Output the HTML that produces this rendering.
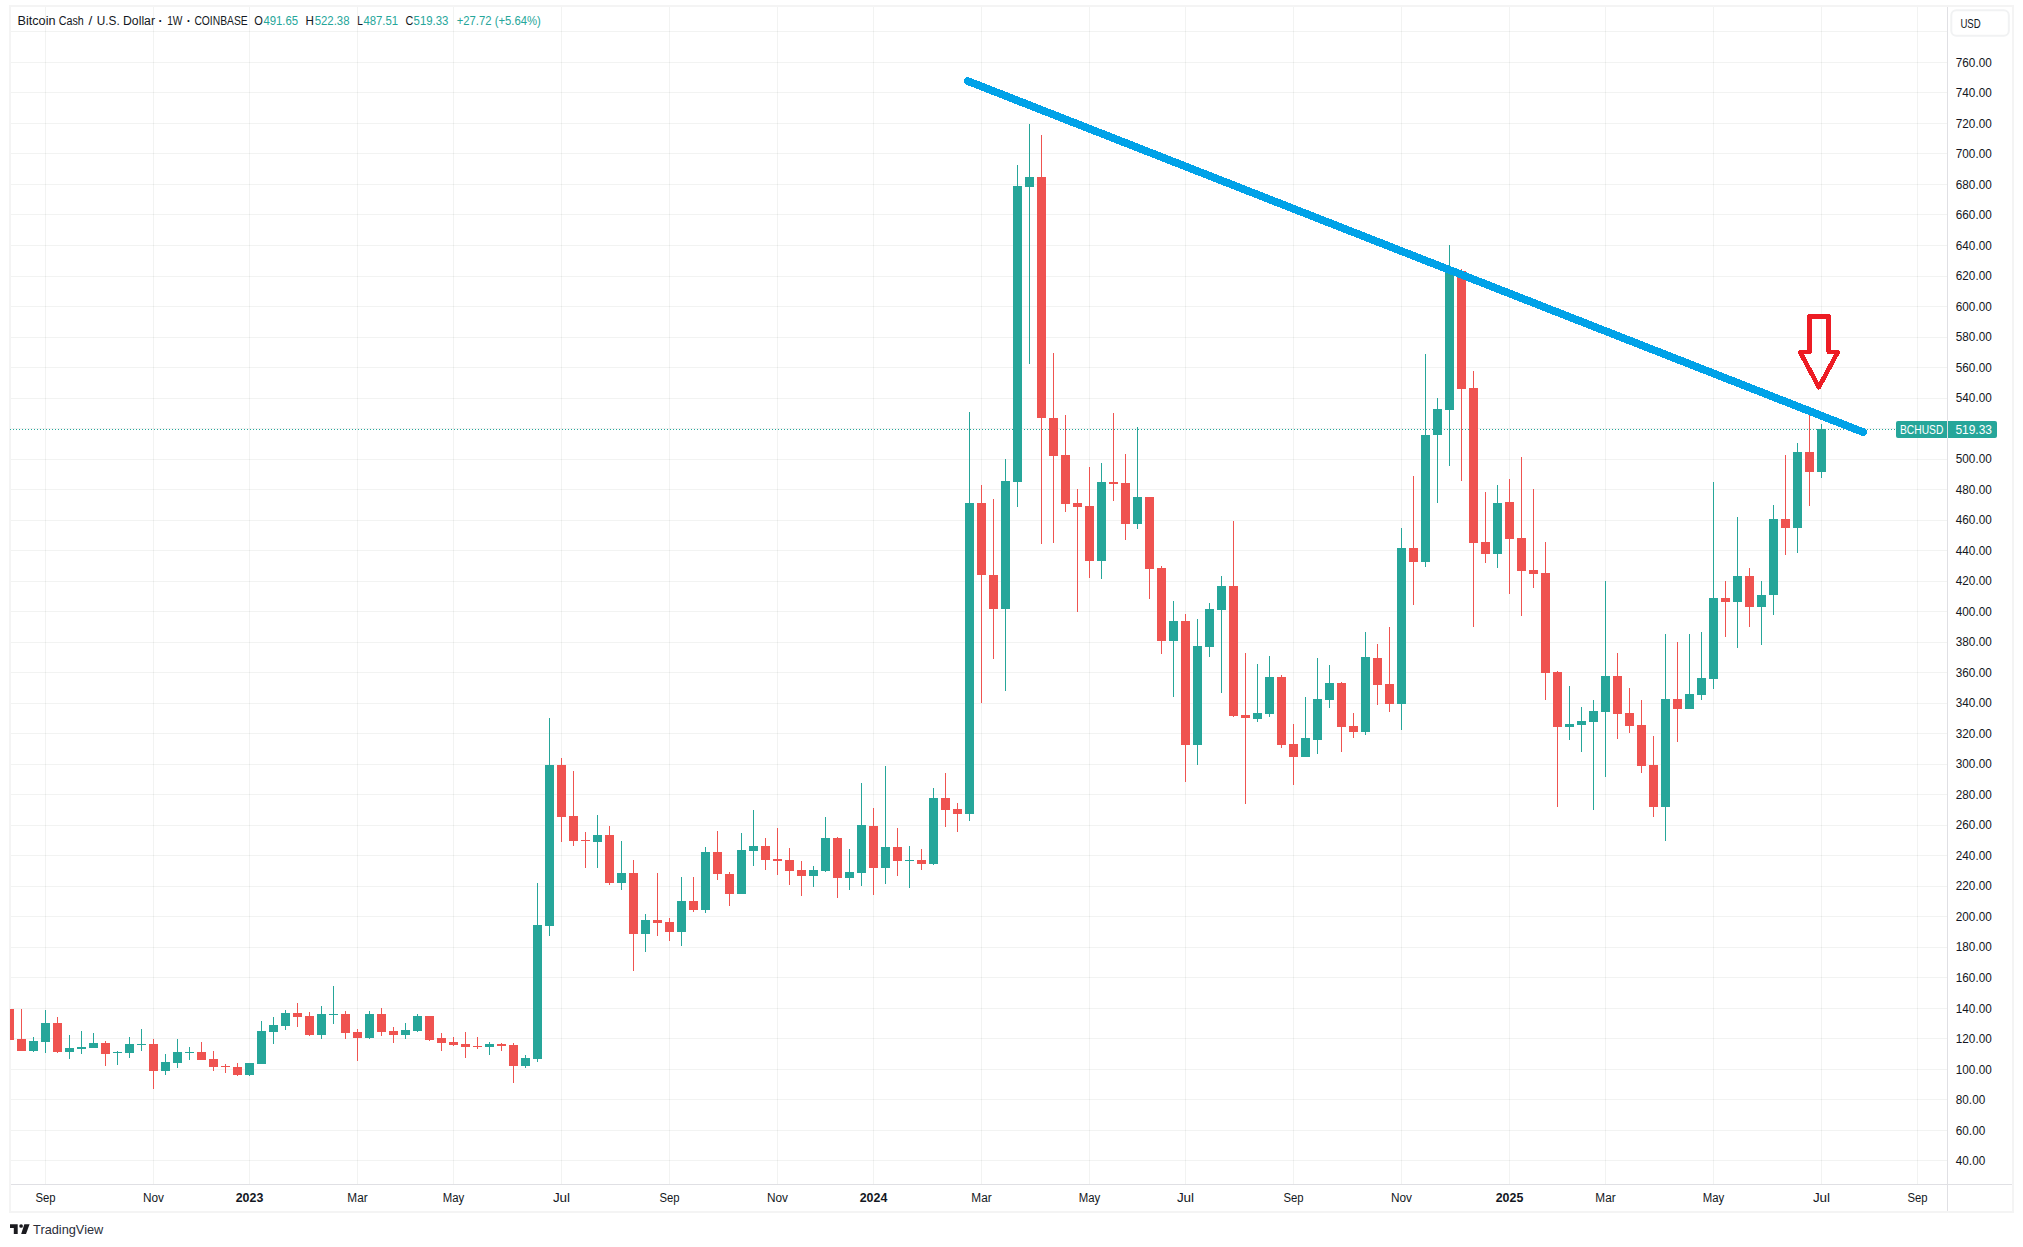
<!DOCTYPE html>
<html lang="en"><head><meta charset="utf-8"><title>BCHUSD chart</title>
<style>html,body{margin:0;padding:0;background:#fff;}body{width:2023px;height:1247px;overflow:hidden;font-family:"Liberation Sans",sans-serif;}</style>
</head><body>
<svg width="2023" height="1247" viewBox="0 0 2023 1247" style="display:block" font-family="'Liberation Sans', sans-serif" font-size="12">
<rect x="0" y="0" width="2023" height="1247" fill="#ffffff"/>
<g fill="rgba(30,50,40,0.06)" shape-rendering="crispEdges">
<rect x="11" y="1160" width="1936" height="1"/>
<rect x="11" y="1130" width="1936" height="1"/>
<rect x="11" y="1099" width="1936" height="1"/>
<rect x="11" y="1069" width="1936" height="1"/>
<rect x="11" y="1038" width="1936" height="1"/>
<rect x="11" y="1008" width="1936" height="1"/>
<rect x="11" y="977" width="1936" height="1"/>
<rect x="11" y="947" width="1936" height="1"/>
<rect x="11" y="916" width="1936" height="1"/>
<rect x="11" y="886" width="1936" height="1"/>
<rect x="11" y="855" width="1936" height="1"/>
<rect x="11" y="825" width="1936" height="1"/>
<rect x="11" y="794" width="1936" height="1"/>
<rect x="11" y="764" width="1936" height="1"/>
<rect x="11" y="733" width="1936" height="1"/>
<rect x="11" y="703" width="1936" height="1"/>
<rect x="11" y="672" width="1936" height="1"/>
<rect x="11" y="642" width="1936" height="1"/>
<rect x="11" y="611" width="1936" height="1"/>
<rect x="11" y="581" width="1936" height="1"/>
<rect x="11" y="550" width="1936" height="1"/>
<rect x="11" y="520" width="1936" height="1"/>
<rect x="11" y="489" width="1936" height="1"/>
<rect x="11" y="459" width="1936" height="1"/>
<rect x="11" y="428" width="1936" height="1"/>
<rect x="11" y="398" width="1936" height="1"/>
<rect x="11" y="367" width="1936" height="1"/>
<rect x="11" y="337" width="1936" height="1"/>
<rect x="11" y="306" width="1936" height="1"/>
<rect x="11" y="276" width="1936" height="1"/>
<rect x="11" y="245" width="1936" height="1"/>
<rect x="11" y="214" width="1936" height="1"/>
<rect x="11" y="184" width="1936" height="1"/>
<rect x="11" y="153" width="1936" height="1"/>
<rect x="11" y="123" width="1936" height="1"/>
<rect x="11" y="92" width="1936" height="1"/>
<rect x="11" y="62" width="1936" height="1"/>
<rect x="11" y="31" width="1936" height="1"/>
<rect x="45" y="7" width="1" height="1177"/>
<rect x="153" y="7" width="1" height="1177"/>
<rect x="249" y="7" width="1" height="1177"/>
<rect x="357" y="7" width="1" height="1177"/>
<rect x="453" y="7" width="1" height="1177"/>
<rect x="561" y="7" width="1" height="1177"/>
<rect x="669" y="7" width="1" height="1177"/>
<rect x="777" y="7" width="1" height="1177"/>
<rect x="873" y="7" width="1" height="1177"/>
<rect x="981" y="7" width="1" height="1177"/>
<rect x="1089" y="7" width="1" height="1177"/>
<rect x="1185" y="7" width="1" height="1177"/>
<rect x="1293" y="7" width="1" height="1177"/>
<rect x="1401" y="7" width="1" height="1177"/>
<rect x="1509" y="7" width="1" height="1177"/>
<rect x="1605" y="7" width="1" height="1177"/>
<rect x="1713" y="7" width="1" height="1177"/>
<rect x="1821" y="7" width="1" height="1177"/>
<rect x="1917" y="7" width="1" height="1177"/>
</g>
<g fill="#f4f4f4" shape-rendering="crispEdges">
<rect x="9" y="5" width="2005" height="2"/>
<rect x="9" y="1211" width="2005" height="2"/>
<rect x="9" y="5" width="2" height="1208"/>
<rect x="2012" y="5" width="2" height="1208"/>
</g>
<g fill="#e0e0e4" shape-rendering="crispEdges">
<rect x="1947" y="7" width="1" height="1204"/>
<rect x="11" y="1184" width="2001" height="1"/>
</g>
<line x1="10" y1="429.5" x2="1896" y2="429.5" stroke="#26a69a" stroke-width="1" stroke-dasharray="1 2" shape-rendering="crispEdges"/>
<g shape-rendering="crispEdges">
<clipPath id="cp"><rect x="10" y="7" width="1937" height="1177"/></clipPath>
<g clip-path="url(#cp)">
<rect x="9" y="1009" width="1" height="31" fill="#ef5350"/><rect x="5" y="1009" width="9" height="31" fill="#ef5350"/>
<rect x="21" y="1009" width="1" height="42" fill="#ef5350"/><rect x="17" y="1039" width="9" height="12" fill="#ef5350"/>
<rect x="33" y="1037" width="1" height="15" fill="#26a69a"/><rect x="29" y="1041" width="9" height="10" fill="#26a69a"/>
<rect x="45" y="1010" width="1" height="43" fill="#26a69a"/><rect x="41" y="1023" width="9" height="19" fill="#26a69a"/>
<rect x="57" y="1017" width="1" height="36" fill="#ef5350"/><rect x="53" y="1023" width="9" height="29" fill="#ef5350"/>
<rect x="69" y="1035" width="1" height="24" fill="#26a69a"/><rect x="65" y="1048" width="9" height="4" fill="#26a69a"/>
<rect x="81" y="1031" width="1" height="23" fill="#26a69a"/><rect x="77" y="1047" width="9" height="2" fill="#26a69a"/>
<rect x="93" y="1033" width="1" height="15" fill="#26a69a"/><rect x="89" y="1043" width="9" height="5" fill="#26a69a"/>
<rect x="105" y="1041" width="1" height="25" fill="#ef5350"/><rect x="101" y="1043" width="9" height="11" fill="#ef5350"/>
<rect x="117" y="1051" width="1" height="14" fill="#26a69a"/><rect x="113" y="1052" width="9" height="1" fill="#26a69a"/>
<rect x="129" y="1037" width="1" height="21" fill="#26a69a"/><rect x="125" y="1044" width="9" height="9" fill="#26a69a"/>
<rect x="141" y="1029" width="1" height="22" fill="#26a69a"/><rect x="137" y="1044" width="9" height="1" fill="#26a69a"/>
<rect x="153" y="1039" width="1" height="50" fill="#ef5350"/><rect x="149" y="1044" width="9" height="27" fill="#ef5350"/>
<rect x="165" y="1054" width="1" height="21" fill="#26a69a"/><rect x="161" y="1062" width="9" height="9" fill="#26a69a"/>
<rect x="177" y="1039" width="1" height="29" fill="#26a69a"/><rect x="173" y="1052" width="9" height="11" fill="#26a69a"/>
<rect x="189" y="1047" width="1" height="13" fill="#26a69a"/><rect x="185" y="1052" width="9" height="1" fill="#26a69a"/>
<rect x="201" y="1042" width="1" height="18" fill="#ef5350"/><rect x="197" y="1052" width="9" height="8" fill="#ef5350"/>
<rect x="213" y="1051" width="1" height="20" fill="#ef5350"/><rect x="209" y="1059" width="9" height="8" fill="#ef5350"/>
<rect x="225" y="1064" width="1" height="9" fill="#ef5350"/><rect x="221" y="1066" width="9" height="1" fill="#ef5350"/>
<rect x="237" y="1063" width="1" height="13" fill="#ef5350"/><rect x="233" y="1067" width="9" height="8" fill="#ef5350"/>
<rect x="249" y="1063" width="1" height="13" fill="#26a69a"/><rect x="245" y="1063" width="9" height="12" fill="#26a69a"/>
<rect x="261" y="1021" width="1" height="43" fill="#26a69a"/><rect x="257" y="1031" width="9" height="33" fill="#26a69a"/>
<rect x="273" y="1017" width="1" height="27" fill="#26a69a"/><rect x="269" y="1025" width="9" height="7" fill="#26a69a"/>
<rect x="285" y="1010" width="1" height="20" fill="#26a69a"/><rect x="281" y="1013" width="9" height="13" fill="#26a69a"/>
<rect x="297" y="1003" width="1" height="24" fill="#ef5350"/><rect x="293" y="1013" width="9" height="4" fill="#ef5350"/>
<rect x="309" y="1012" width="1" height="24" fill="#ef5350"/><rect x="305" y="1016" width="9" height="19" fill="#ef5350"/>
<rect x="321" y="1006" width="1" height="33" fill="#26a69a"/><rect x="317" y="1014" width="9" height="21" fill="#26a69a"/>
<rect x="333" y="986" width="1" height="38" fill="#26a69a"/><rect x="329" y="1014" width="9" height="1" fill="#26a69a"/>
<rect x="345" y="1011" width="1" height="28" fill="#ef5350"/><rect x="341" y="1014" width="9" height="19" fill="#ef5350"/>
<rect x="357" y="1029" width="1" height="32" fill="#ef5350"/><rect x="353" y="1032" width="9" height="6" fill="#ef5350"/>
<rect x="369" y="1011" width="1" height="28" fill="#26a69a"/><rect x="365" y="1014" width="9" height="24" fill="#26a69a"/>
<rect x="381" y="1008" width="1" height="28" fill="#ef5350"/><rect x="377" y="1014" width="9" height="18" fill="#ef5350"/>
<rect x="393" y="1027" width="1" height="16" fill="#ef5350"/><rect x="389" y="1031" width="9" height="4" fill="#ef5350"/>
<rect x="405" y="1023" width="1" height="16" fill="#26a69a"/><rect x="401" y="1030" width="9" height="5" fill="#26a69a"/>
<rect x="417" y="1014" width="1" height="18" fill="#26a69a"/><rect x="413" y="1016" width="9" height="15" fill="#26a69a"/>
<rect x="429" y="1016" width="1" height="25" fill="#ef5350"/><rect x="425" y="1016" width="9" height="24" fill="#ef5350"/>
<rect x="441" y="1033" width="1" height="18" fill="#ef5350"/><rect x="437" y="1038" width="9" height="5" fill="#ef5350"/>
<rect x="453" y="1037" width="1" height="9" fill="#ef5350"/><rect x="449" y="1042" width="9" height="3" fill="#ef5350"/>
<rect x="465" y="1032" width="1" height="26" fill="#ef5350"/><rect x="461" y="1044" width="9" height="3" fill="#ef5350"/>
<rect x="477" y="1037" width="1" height="12" fill="#ef5350"/><rect x="473" y="1046" width="9" height="1" fill="#ef5350"/>
<rect x="489" y="1042" width="1" height="13" fill="#26a69a"/><rect x="485" y="1044" width="9" height="3" fill="#26a69a"/>
<rect x="501" y="1043" width="1" height="8" fill="#ef5350"/><rect x="497" y="1044" width="9" height="2" fill="#ef5350"/>
<rect x="513" y="1043" width="1" height="40" fill="#ef5350"/><rect x="509" y="1045" width="9" height="21" fill="#ef5350"/>
<rect x="525" y="1055" width="1" height="13" fill="#26a69a"/><rect x="521" y="1058" width="9" height="8" fill="#26a69a"/>
<rect x="537" y="883" width="1" height="179" fill="#26a69a"/><rect x="533" y="925" width="9" height="134" fill="#26a69a"/>
<rect x="549" y="718" width="1" height="218" fill="#26a69a"/><rect x="545" y="765" width="9" height="161" fill="#26a69a"/>
<rect x="561" y="758" width="1" height="84" fill="#ef5350"/><rect x="557" y="765" width="9" height="52" fill="#ef5350"/>
<rect x="573" y="771" width="1" height="75" fill="#ef5350"/><rect x="569" y="816" width="9" height="25" fill="#ef5350"/>
<rect x="585" y="832" width="1" height="36" fill="#ef5350"/><rect x="581" y="840" width="9" height="1" fill="#ef5350"/>
<rect x="597" y="815" width="1" height="53" fill="#26a69a"/><rect x="593" y="835" width="9" height="7" fill="#26a69a"/>
<rect x="609" y="826" width="1" height="59" fill="#ef5350"/><rect x="605" y="835" width="9" height="48" fill="#ef5350"/>
<rect x="621" y="841" width="1" height="49" fill="#26a69a"/><rect x="617" y="873" width="9" height="10" fill="#26a69a"/>
<rect x="633" y="860" width="1" height="111" fill="#ef5350"/><rect x="629" y="873" width="9" height="61" fill="#ef5350"/>
<rect x="645" y="914" width="1" height="38" fill="#26a69a"/><rect x="641" y="920" width="9" height="14" fill="#26a69a"/>
<rect x="657" y="873" width="1" height="63" fill="#ef5350"/><rect x="653" y="920" width="9" height="3" fill="#ef5350"/>
<rect x="669" y="918" width="1" height="23" fill="#ef5350"/><rect x="665" y="922" width="9" height="10" fill="#ef5350"/>
<rect x="681" y="877" width="1" height="69" fill="#26a69a"/><rect x="677" y="901" width="9" height="31" fill="#26a69a"/>
<rect x="693" y="877" width="1" height="35" fill="#ef5350"/><rect x="689" y="901" width="9" height="9" fill="#ef5350"/>
<rect x="705" y="847" width="1" height="66" fill="#26a69a"/><rect x="701" y="852" width="9" height="58" fill="#26a69a"/>
<rect x="717" y="831" width="1" height="49" fill="#ef5350"/><rect x="713" y="852" width="9" height="22" fill="#ef5350"/>
<rect x="729" y="872" width="1" height="34" fill="#ef5350"/><rect x="725" y="874" width="9" height="20" fill="#ef5350"/>
<rect x="741" y="833" width="1" height="61" fill="#26a69a"/><rect x="737" y="850" width="9" height="44" fill="#26a69a"/>
<rect x="753" y="810" width="1" height="56" fill="#26a69a"/><rect x="749" y="846" width="9" height="5" fill="#26a69a"/>
<rect x="765" y="838" width="1" height="32" fill="#ef5350"/><rect x="761" y="846" width="9" height="14" fill="#ef5350"/>
<rect x="777" y="828" width="1" height="47" fill="#ef5350"/><rect x="773" y="859" width="9" height="2" fill="#ef5350"/>
<rect x="789" y="848" width="1" height="37" fill="#ef5350"/><rect x="785" y="860" width="9" height="11" fill="#ef5350"/>
<rect x="801" y="861" width="1" height="35" fill="#ef5350"/><rect x="797" y="870" width="9" height="6" fill="#ef5350"/>
<rect x="813" y="866" width="1" height="21" fill="#26a69a"/><rect x="809" y="870" width="9" height="6" fill="#26a69a"/>
<rect x="825" y="817" width="1" height="55" fill="#26a69a"/><rect x="821" y="838" width="9" height="33" fill="#26a69a"/>
<rect x="837" y="837" width="1" height="61" fill="#ef5350"/><rect x="833" y="838" width="9" height="40" fill="#ef5350"/>
<rect x="849" y="849" width="1" height="41" fill="#26a69a"/><rect x="845" y="872" width="9" height="6" fill="#26a69a"/>
<rect x="861" y="783" width="1" height="103" fill="#26a69a"/><rect x="857" y="825" width="9" height="48" fill="#26a69a"/>
<rect x="873" y="808" width="1" height="87" fill="#ef5350"/><rect x="869" y="826" width="9" height="42" fill="#ef5350"/>
<rect x="885" y="766" width="1" height="118" fill="#26a69a"/><rect x="881" y="847" width="9" height="21" fill="#26a69a"/>
<rect x="897" y="828" width="1" height="48" fill="#ef5350"/><rect x="893" y="847" width="9" height="14" fill="#ef5350"/>
<rect x="909" y="846" width="1" height="42" fill="#26a69a"/><rect x="905" y="860" width="9" height="1" fill="#26a69a"/>
<rect x="921" y="849" width="1" height="21" fill="#ef5350"/><rect x="917" y="860" width="9" height="4" fill="#ef5350"/>
<rect x="933" y="788" width="1" height="77" fill="#26a69a"/><rect x="929" y="798" width="9" height="66" fill="#26a69a"/>
<rect x="945" y="773" width="1" height="54" fill="#ef5350"/><rect x="941" y="798" width="9" height="12" fill="#ef5350"/>
<rect x="957" y="803" width="1" height="29" fill="#ef5350"/><rect x="953" y="809" width="9" height="5" fill="#ef5350"/>
<rect x="969" y="412" width="1" height="409" fill="#26a69a"/><rect x="965" y="503" width="9" height="311" fill="#26a69a"/>
<rect x="981" y="485" width="1" height="218" fill="#ef5350"/><rect x="977" y="503" width="9" height="72" fill="#ef5350"/>
<rect x="993" y="499" width="1" height="160" fill="#ef5350"/><rect x="989" y="575" width="9" height="34" fill="#ef5350"/>
<rect x="1005" y="459" width="1" height="232" fill="#26a69a"/><rect x="1001" y="481" width="9" height="128" fill="#26a69a"/>
<rect x="1017" y="165" width="1" height="342" fill="#26a69a"/><rect x="1013" y="186" width="9" height="296" fill="#26a69a"/>
<rect x="1029" y="124" width="1" height="240" fill="#26a69a"/><rect x="1025" y="177" width="9" height="10" fill="#26a69a"/>
<rect x="1041" y="135" width="1" height="409" fill="#ef5350"/><rect x="1037" y="177" width="9" height="241" fill="#ef5350"/>
<rect x="1053" y="353" width="1" height="190" fill="#ef5350"/><rect x="1049" y="418" width="9" height="38" fill="#ef5350"/>
<rect x="1065" y="415" width="1" height="97" fill="#ef5350"/><rect x="1061" y="455" width="9" height="49" fill="#ef5350"/>
<rect x="1077" y="489" width="1" height="123" fill="#ef5350"/><rect x="1073" y="503" width="9" height="4" fill="#ef5350"/>
<rect x="1089" y="467" width="1" height="111" fill="#ef5350"/><rect x="1085" y="506" width="9" height="55" fill="#ef5350"/>
<rect x="1101" y="463" width="1" height="116" fill="#26a69a"/><rect x="1097" y="482" width="9" height="79" fill="#26a69a"/>
<rect x="1113" y="413" width="1" height="88" fill="#ef5350"/><rect x="1109" y="482" width="9" height="2" fill="#ef5350"/>
<rect x="1125" y="454" width="1" height="86" fill="#ef5350"/><rect x="1121" y="483" width="9" height="41" fill="#ef5350"/>
<rect x="1137" y="427" width="1" height="102" fill="#26a69a"/><rect x="1133" y="497" width="9" height="27" fill="#26a69a"/>
<rect x="1149" y="497" width="1" height="102" fill="#ef5350"/><rect x="1145" y="497" width="9" height="72" fill="#ef5350"/>
<rect x="1161" y="566" width="1" height="88" fill="#ef5350"/><rect x="1157" y="568" width="9" height="73" fill="#ef5350"/>
<rect x="1173" y="601" width="1" height="96" fill="#26a69a"/><rect x="1169" y="621" width="9" height="20" fill="#26a69a"/>
<rect x="1185" y="614" width="1" height="168" fill="#ef5350"/><rect x="1181" y="621" width="9" height="124" fill="#ef5350"/>
<rect x="1197" y="619" width="1" height="146" fill="#26a69a"/><rect x="1193" y="646" width="9" height="99" fill="#26a69a"/>
<rect x="1209" y="603" width="1" height="54" fill="#26a69a"/><rect x="1205" y="609" width="9" height="38" fill="#26a69a"/>
<rect x="1221" y="576" width="1" height="117" fill="#26a69a"/><rect x="1217" y="586" width="9" height="24" fill="#26a69a"/>
<rect x="1233" y="521" width="1" height="196" fill="#ef5350"/><rect x="1229" y="586" width="9" height="130" fill="#ef5350"/>
<rect x="1245" y="653" width="1" height="151" fill="#ef5350"/><rect x="1241" y="715" width="9" height="3" fill="#ef5350"/>
<rect x="1257" y="664" width="1" height="58" fill="#26a69a"/><rect x="1253" y="713" width="9" height="6" fill="#26a69a"/>
<rect x="1269" y="656" width="1" height="61" fill="#26a69a"/><rect x="1265" y="677" width="9" height="37" fill="#26a69a"/>
<rect x="1281" y="675" width="1" height="73" fill="#ef5350"/><rect x="1277" y="677" width="9" height="68" fill="#ef5350"/>
<rect x="1293" y="724" width="1" height="61" fill="#ef5350"/><rect x="1289" y="744" width="9" height="13" fill="#ef5350"/>
<rect x="1305" y="697" width="1" height="60" fill="#26a69a"/><rect x="1301" y="738" width="9" height="19" fill="#26a69a"/>
<rect x="1317" y="658" width="1" height="96" fill="#26a69a"/><rect x="1313" y="699" width="9" height="41" fill="#26a69a"/>
<rect x="1329" y="665" width="1" height="43" fill="#26a69a"/><rect x="1325" y="683" width="9" height="17" fill="#26a69a"/>
<rect x="1341" y="682" width="1" height="70" fill="#ef5350"/><rect x="1337" y="683" width="9" height="44" fill="#ef5350"/>
<rect x="1353" y="713" width="1" height="25" fill="#ef5350"/><rect x="1349" y="726" width="9" height="6" fill="#ef5350"/>
<rect x="1365" y="632" width="1" height="103" fill="#26a69a"/><rect x="1361" y="657" width="9" height="75" fill="#26a69a"/>
<rect x="1377" y="644" width="1" height="61" fill="#ef5350"/><rect x="1373" y="658" width="9" height="27" fill="#ef5350"/>
<rect x="1389" y="627" width="1" height="85" fill="#ef5350"/><rect x="1385" y="684" width="9" height="20" fill="#ef5350"/>
<rect x="1401" y="528" width="1" height="202" fill="#26a69a"/><rect x="1397" y="548" width="9" height="156" fill="#26a69a"/>
<rect x="1413" y="476" width="1" height="129" fill="#ef5350"/><rect x="1409" y="548" width="9" height="14" fill="#ef5350"/>
<rect x="1425" y="354" width="1" height="213" fill="#26a69a"/><rect x="1421" y="435" width="9" height="127" fill="#26a69a"/>
<rect x="1437" y="398" width="1" height="105" fill="#26a69a"/><rect x="1433" y="409" width="9" height="26" fill="#26a69a"/>
<rect x="1449" y="245" width="1" height="221" fill="#26a69a"/><rect x="1445" y="271" width="9" height="139" fill="#26a69a"/>
<rect x="1461" y="269" width="1" height="212" fill="#ef5350"/><rect x="1457" y="271" width="9" height="118" fill="#ef5350"/>
<rect x="1473" y="371" width="1" height="256" fill="#ef5350"/><rect x="1469" y="388" width="9" height="155" fill="#ef5350"/>
<rect x="1485" y="492" width="1" height="71" fill="#ef5350"/><rect x="1481" y="542" width="9" height="12" fill="#ef5350"/>
<rect x="1497" y="485" width="1" height="83" fill="#26a69a"/><rect x="1493" y="503" width="9" height="51" fill="#26a69a"/>
<rect x="1509" y="479" width="1" height="115" fill="#ef5350"/><rect x="1505" y="502" width="9" height="37" fill="#ef5350"/>
<rect x="1521" y="457" width="1" height="159" fill="#ef5350"/><rect x="1517" y="538" width="9" height="33" fill="#ef5350"/>
<rect x="1533" y="489" width="1" height="99" fill="#ef5350"/><rect x="1529" y="570" width="9" height="4" fill="#ef5350"/>
<rect x="1545" y="542" width="1" height="158" fill="#ef5350"/><rect x="1541" y="573" width="9" height="100" fill="#ef5350"/>
<rect x="1557" y="671" width="1" height="136" fill="#ef5350"/><rect x="1553" y="672" width="9" height="55" fill="#ef5350"/>
<rect x="1569" y="686" width="1" height="54" fill="#26a69a"/><rect x="1565" y="724" width="9" height="3" fill="#26a69a"/>
<rect x="1581" y="707" width="1" height="45" fill="#26a69a"/><rect x="1577" y="721" width="9" height="4" fill="#26a69a"/>
<rect x="1593" y="700" width="1" height="110" fill="#26a69a"/><rect x="1589" y="711" width="9" height="11" fill="#26a69a"/>
<rect x="1605" y="581" width="1" height="196" fill="#26a69a"/><rect x="1601" y="676" width="9" height="36" fill="#26a69a"/>
<rect x="1617" y="653" width="1" height="86" fill="#ef5350"/><rect x="1613" y="676" width="9" height="38" fill="#ef5350"/>
<rect x="1629" y="688" width="1" height="45" fill="#ef5350"/><rect x="1625" y="713" width="9" height="13" fill="#ef5350"/>
<rect x="1641" y="700" width="1" height="73" fill="#ef5350"/><rect x="1637" y="725" width="9" height="41" fill="#ef5350"/>
<rect x="1653" y="736" width="1" height="81" fill="#ef5350"/><rect x="1649" y="765" width="9" height="42" fill="#ef5350"/>
<rect x="1665" y="634" width="1" height="207" fill="#26a69a"/><rect x="1661" y="699" width="9" height="108" fill="#26a69a"/>
<rect x="1677" y="642" width="1" height="100" fill="#ef5350"/><rect x="1673" y="699" width="9" height="10" fill="#ef5350"/>
<rect x="1689" y="634" width="1" height="75" fill="#26a69a"/><rect x="1685" y="694" width="9" height="15" fill="#26a69a"/>
<rect x="1701" y="632" width="1" height="68" fill="#26a69a"/><rect x="1697" y="678" width="9" height="17" fill="#26a69a"/>
<rect x="1713" y="482" width="1" height="207" fill="#26a69a"/><rect x="1709" y="598" width="9" height="81" fill="#26a69a"/>
<rect x="1725" y="581" width="1" height="56" fill="#ef5350"/><rect x="1721" y="598" width="9" height="4" fill="#ef5350"/>
<rect x="1737" y="517" width="1" height="131" fill="#26a69a"/><rect x="1733" y="576" width="9" height="26" fill="#26a69a"/>
<rect x="1749" y="568" width="1" height="59" fill="#ef5350"/><rect x="1745" y="576" width="9" height="31" fill="#ef5350"/>
<rect x="1761" y="581" width="1" height="64" fill="#26a69a"/><rect x="1757" y="595" width="9" height="12" fill="#26a69a"/>
<rect x="1773" y="505" width="1" height="110" fill="#26a69a"/><rect x="1769" y="519" width="9" height="76" fill="#26a69a"/>
<rect x="1785" y="455" width="1" height="100" fill="#ef5350"/><rect x="1781" y="519" width="9" height="9" fill="#ef5350"/>
<rect x="1797" y="443" width="1" height="110" fill="#26a69a"/><rect x="1793" y="452" width="9" height="76" fill="#26a69a"/>
<rect x="1809" y="413" width="1" height="93" fill="#ef5350"/><rect x="1805" y="452" width="9" height="20" fill="#ef5350"/>
<rect x="1821" y="424" width="1" height="54" fill="#26a69a"/><rect x="1817" y="429" width="9" height="43" fill="#26a69a"/>
</g></g>
<line x1="967.9" y1="81.1" x2="1863.1" y2="432.1" stroke="#00a2e8" stroke-width="7.8" stroke-linecap="round" shape-rendering="crispEdges"/>
<path d="M1809.5 316.4 H1828.6 V351.6 L1837.6 352.4 L1818.9 387.2 L1800.3 352.4 L1809.5 351.6 Z" fill="none" stroke="#ed1c24" stroke-width="4.6" stroke-linejoin="round" shape-rendering="crispEdges"/>
<g fill="#131722">
<text x="17.5" y="25" textLength="38" lengthAdjust="spacingAndGlyphs">Bitcoin</text>
<text x="58.8" y="25" textLength="25" lengthAdjust="spacingAndGlyphs">Cash</text>
<text x="88.6" y="25" textLength="3.8" lengthAdjust="spacingAndGlyphs">/</text>
<text x="96.8" y="25" textLength="23" lengthAdjust="spacingAndGlyphs">U.S.</text>
<text x="123" y="25" textLength="32" lengthAdjust="spacingAndGlyphs">Dollar</text>
<text x="167.2" y="25" textLength="15.3" lengthAdjust="spacingAndGlyphs">1W</text>
<text x="194.4" y="25" textLength="53.3" lengthAdjust="spacingAndGlyphs">COINBASE</text>
<text x="160.6" y="25" text-anchor="middle" font-weight="bold">·</text><text x="188.7" y="25" text-anchor="middle" font-weight="bold">·</text>
<text x="254.2" y="25" textLength="8.6" lengthAdjust="spacingAndGlyphs">O</text><text x="305.4" y="25" textLength="8.4" lengthAdjust="spacingAndGlyphs">H</text><text x="357.2" y="25" textLength="5.6" lengthAdjust="spacingAndGlyphs">L</text><text x="405.6" y="25" textLength="7.8" lengthAdjust="spacingAndGlyphs">C</text>
</g>
<g fill="#26a69a">
<text x="263.4" y="25" textLength="34.8" lengthAdjust="spacingAndGlyphs">491.65</text>
<text x="314.7" y="25" textLength="34.8" lengthAdjust="spacingAndGlyphs">522.38</text>
<text x="363.4" y="25" textLength="34.8" lengthAdjust="spacingAndGlyphs">487.51</text>
<text x="413.6" y="25" textLength="34.8" lengthAdjust="spacingAndGlyphs">519.33</text>
<text x="456.7" y="25" textLength="84.1" lengthAdjust="spacingAndGlyphs">+27.72 (+5.64%)</text>
</g>
<rect x="1951.3" y="10.2" width="57.5" height="25.5" rx="5" ry="5" fill="#ffffff" stroke="#f1f2f3" stroke-width="2"/>
<text x="1960.4" y="27.7" fill="#131722" textLength="20.3" lengthAdjust="spacingAndGlyphs">USD</text>
<g fill="#131722">
<text x="1955.8" y="1165.1" textLength="29.4" lengthAdjust="spacingAndGlyphs">40.00</text>
<text x="1955.8" y="1134.5" textLength="29.4" lengthAdjust="spacingAndGlyphs">60.00</text>
<text x="1955.8" y="1104.0" textLength="29.4" lengthAdjust="spacingAndGlyphs">80.00</text>
<text x="1955.8" y="1073.5" textLength="35.9" lengthAdjust="spacingAndGlyphs">100.00</text>
<text x="1955.8" y="1043.0" textLength="35.9" lengthAdjust="spacingAndGlyphs">120.00</text>
<text x="1955.8" y="1012.5" textLength="35.9" lengthAdjust="spacingAndGlyphs">140.00</text>
<text x="1955.8" y="982.0" textLength="35.9" lengthAdjust="spacingAndGlyphs">160.00</text>
<text x="1955.8" y="951.4" textLength="35.9" lengthAdjust="spacingAndGlyphs">180.00</text>
<text x="1955.8" y="920.9" textLength="35.9" lengthAdjust="spacingAndGlyphs">200.00</text>
<text x="1955.8" y="890.4" textLength="35.9" lengthAdjust="spacingAndGlyphs">220.00</text>
<text x="1955.8" y="859.9" textLength="35.9" lengthAdjust="spacingAndGlyphs">240.00</text>
<text x="1955.8" y="829.4" textLength="35.9" lengthAdjust="spacingAndGlyphs">260.00</text>
<text x="1955.8" y="798.9" textLength="35.9" lengthAdjust="spacingAndGlyphs">280.00</text>
<text x="1955.8" y="768.4" textLength="35.9" lengthAdjust="spacingAndGlyphs">300.00</text>
<text x="1955.8" y="737.8" textLength="35.9" lengthAdjust="spacingAndGlyphs">320.00</text>
<text x="1955.8" y="707.3" textLength="35.9" lengthAdjust="spacingAndGlyphs">340.00</text>
<text x="1955.8" y="676.8" textLength="35.9" lengthAdjust="spacingAndGlyphs">360.00</text>
<text x="1955.8" y="646.3" textLength="35.9" lengthAdjust="spacingAndGlyphs">380.00</text>
<text x="1955.8" y="615.8" textLength="35.9" lengthAdjust="spacingAndGlyphs">400.00</text>
<text x="1955.8" y="585.3" textLength="35.9" lengthAdjust="spacingAndGlyphs">420.00</text>
<text x="1955.8" y="554.8" textLength="35.9" lengthAdjust="spacingAndGlyphs">440.00</text>
<text x="1955.8" y="524.2" textLength="35.9" lengthAdjust="spacingAndGlyphs">460.00</text>
<text x="1955.8" y="493.7" textLength="35.9" lengthAdjust="spacingAndGlyphs">480.00</text>
<text x="1955.8" y="463.2" textLength="35.9" lengthAdjust="spacingAndGlyphs">500.00</text>
<text x="1955.8" y="402.2" textLength="35.9" lengthAdjust="spacingAndGlyphs">540.00</text>
<text x="1955.8" y="371.7" textLength="35.9" lengthAdjust="spacingAndGlyphs">560.00</text>
<text x="1955.8" y="341.1" textLength="35.9" lengthAdjust="spacingAndGlyphs">580.00</text>
<text x="1955.8" y="310.6" textLength="35.9" lengthAdjust="spacingAndGlyphs">600.00</text>
<text x="1955.8" y="280.1" textLength="35.9" lengthAdjust="spacingAndGlyphs">620.00</text>
<text x="1955.8" y="249.6" textLength="35.9" lengthAdjust="spacingAndGlyphs">640.00</text>
<text x="1955.8" y="219.1" textLength="35.9" lengthAdjust="spacingAndGlyphs">660.00</text>
<text x="1955.8" y="188.6" textLength="35.9" lengthAdjust="spacingAndGlyphs">680.00</text>
<text x="1955.8" y="158.1" textLength="35.9" lengthAdjust="spacingAndGlyphs">700.00</text>
<text x="1955.8" y="127.5" textLength="35.9" lengthAdjust="spacingAndGlyphs">720.00</text>
<text x="1955.8" y="97.0" textLength="35.9" lengthAdjust="spacingAndGlyphs">740.00</text>
<text x="1955.8" y="66.5" textLength="35.9" lengthAdjust="spacingAndGlyphs">760.00</text>
</g>
<path d="M1898 421 H1947 V438 H1898 a2 2 0 0 1 -2 -2 V423 a2 2 0 0 1 2 -2 Z" fill="#26a69a"/>
<path d="M1948 421 H1995 a2 2 0 0 1 2 2 V436 a2 2 0 0 1 -2 2 H1948 Z" fill="#26a69a"/>
<text x="1900" y="433.9" fill="#ffffff" textLength="43.4" lengthAdjust="spacingAndGlyphs">BCHUSD</text>
<text x="1955.4" y="433.9" fill="#ffffff" textLength="36.6" lengthAdjust="spacingAndGlyphs">519.33</text>
<g fill="#131722" text-anchor="middle">
<text x="45.5" y="1201.8" textLength="20.1" lengthAdjust="spacingAndGlyphs">Sep</text>
<text x="153.5" y="1201.8" textLength="21.0" lengthAdjust="spacingAndGlyphs">Nov</text>
<text x="249.5" y="1201.8" font-weight="bold" textLength="27.6" lengthAdjust="spacingAndGlyphs">2023</text>
<text x="357.5" y="1201.8" textLength="20.3" lengthAdjust="spacingAndGlyphs">Mar</text>
<text x="453.5" y="1201.8" textLength="21.5" lengthAdjust="spacingAndGlyphs">May</text>
<text x="561.5" y="1201.8" textLength="17.2" lengthAdjust="spacingAndGlyphs">Jul</text>
<text x="669.5" y="1201.8" textLength="20.1" lengthAdjust="spacingAndGlyphs">Sep</text>
<text x="777.5" y="1201.8" textLength="21.0" lengthAdjust="spacingAndGlyphs">Nov</text>
<text x="873.5" y="1201.8" font-weight="bold" textLength="27.6" lengthAdjust="spacingAndGlyphs">2024</text>
<text x="981.5" y="1201.8" textLength="20.3" lengthAdjust="spacingAndGlyphs">Mar</text>
<text x="1089.5" y="1201.8" textLength="21.5" lengthAdjust="spacingAndGlyphs">May</text>
<text x="1185.5" y="1201.8" textLength="17.2" lengthAdjust="spacingAndGlyphs">Jul</text>
<text x="1293.5" y="1201.8" textLength="20.1" lengthAdjust="spacingAndGlyphs">Sep</text>
<text x="1401.5" y="1201.8" textLength="21.0" lengthAdjust="spacingAndGlyphs">Nov</text>
<text x="1509.5" y="1201.8" font-weight="bold" textLength="27.6" lengthAdjust="spacingAndGlyphs">2025</text>
<text x="1605.5" y="1201.8" textLength="20.3" lengthAdjust="spacingAndGlyphs">Mar</text>
<text x="1713.5" y="1201.8" textLength="21.5" lengthAdjust="spacingAndGlyphs">May</text>
<text x="1821.5" y="1201.8" textLength="17.2" lengthAdjust="spacingAndGlyphs">Jul</text>
<text x="1917.5" y="1201.8" textLength="20.1" lengthAdjust="spacingAndGlyphs">Sep</text>
</g>
<g fill="#1b1b1f">
<path d="M10 1224.2 H17.7 V1233.9 H13.8 V1228.1 H10 Z"/>
<circle cx="21.1" cy="1226" r="1.85"/>
<path d="M24.3 1224.2 H29.6 L26 1233.9 H21.2 Z"/>
<text x="33.1" y="1233.9" font-size="13" textLength="70.2" lengthAdjust="spacingAndGlyphs" fill="#2a2e39">TradingView</text>
</g>
</svg>
</body></html>
